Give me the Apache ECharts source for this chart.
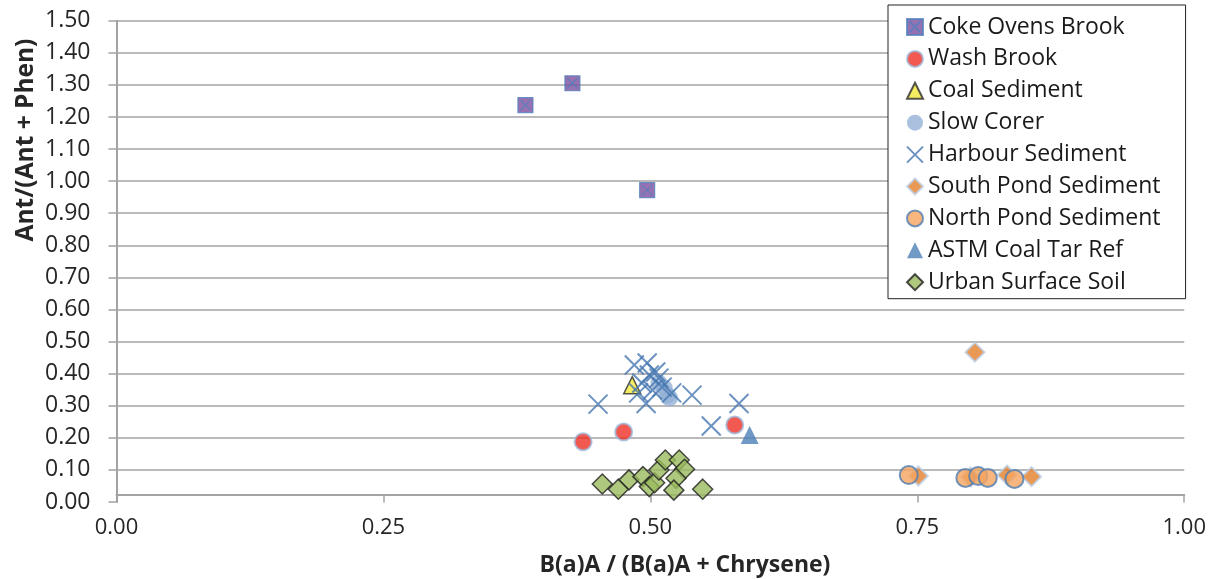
<!DOCTYPE html>
<html>
<head>
<meta charset="utf-8">
<script src="https://cdn.jsdelivr.net/npm/echarts@6/dist/echarts.min.js"></script>
<style>
html,body{margin:0;padding:0;background:#fff;}
#chart{width:1209px;height:579px;}
</style>
</head>
<body>
<div id="chart"></div>
<script>
// ---- data ----
const xTickLabels = ['0.00', '0.25', '0.50', '0.75', '1.00'];
const yTickLabels = ['0.00','0.10','0.20','0.30','0.40','0.50','0.60','0.70','0.80','0.90','1.00','1.10','1.20','1.30','1.40','1.50'];
const xAxisTitle = 'B(a)A / (B(a)A + Chrysene)';
const yAxisTitle = 'Ant/(Ant + Phen)';

const cokeOvensBrook = [[0.383, 1.237], [0.427, 1.305], [0.497, 0.972]];
const washBrook = [[0.437, 0.188], [0.475, 0.218], [0.579, 0.240]];
const coalSediment = [[0.483, 0.364]];
const slowCorer = [[0.508, 0.371], [0.513, 0.355], [0.516, 0.333], [0.518, 0.324]];
const harbourSediment = [
  [0.451, 0.305], [0.557, 0.237], [0.583, 0.307], [0.539, 0.333], [0.496, 0.307],
  [0.485, 0.427], [0.497, 0.433], [0.505, 0.405], [0.492, 0.371], [0.502, 0.349],
  [0.511, 0.358], [0.520, 0.340], [0.489, 0.340], [0.508, 0.386], [0.499, 0.396]
];
const southPondSediment = [[0.804, 0.467], [0.751, 0.081], [0.800, 0.078], [0.834, 0.084], [0.857, 0.079]];
const northPondSediment = [[0.742, 0.084], [0.795, 0.075], [0.807, 0.081], [0.816, 0.075], [0.841, 0.072]];
const astmCoalTarRef = [[0.593, 0.209]];
const urbanSurfaceSoil = [
  [0.455, 0.056], [0.470, 0.040], [0.480, 0.069], [0.493, 0.079], [0.499, 0.048],
  [0.504, 0.060], [0.508, 0.100], [0.514, 0.131], [0.527, 0.131], [0.532, 0.102],
  [0.524, 0.074], [0.522, 0.037], [0.549, 0.040]
];

const seriesNames = ['Coke Ovens Brook', 'Wash Brook', 'Coal Sediment', 'Slow Corer', 'Harbour Sediment',
  'South Pond Sediment', 'North Pond Sediment', 'ASTM Coal Tar Ref', 'Urban Surface Soil'];

// ---- chart ----
const FONT = '"Open Sans", Lato, sans-serif';
const gridGray = '#A3A3A3';
const chart = echarts.init(document.getElementById('chart'), null, {renderer: 'canvas'});

function sc(name, data, symbol, size, itemStyle) {
  return {
    type: 'scatter', name: name, data: data, symbol: symbol, symbolSize: size,
    itemStyle: itemStyle, emphasis: {disabled: true}, animation: false
  };
}

const option = {
  animation: false,
  backgroundColor: '#ffffff',
  grid: {left: 116.5, top: 20.7, width: 1069, height: 481.3, containLabel: false},
  xAxis: {
    type: 'value', min: 0, max: 1, interval: 0.25, offset: -7.5,
    axisLine: {show: true, lineStyle: {color: gridGray, width: 2}},
    axisTick: {show: true, inside: false, length: 8, lineStyle: {color: gridGray, width: 1.5}},
    axisLabel: {margin: 22, color: '#262626', fontFamily: FONT, fontSize: 22,
      formatter: function (v) { return xTickLabels[Math.round(v / 0.25)] || ''; }},
    splitLine: {show: false}
  },
  yAxis: {
    type: 'value', min: 0, max: 1.5, interval: 0.1,
    axisLine: {show: true, lineStyle: {color: gridGray, width: 2}},
    axisTick: {show: true, inside: false, length: 8, lineStyle: {color: gridGray, width: 1.5}},
    axisLabel: {margin: 26, color: '#262626', fontFamily: FONT, fontSize: 23,
      formatter: function (v) { return yTickLabels[Math.round(v / 0.1)] || ''; }},
    splitLine: {show: true, showMinLine: false, lineStyle: {color: gridGray, width: 1.5}}
  },
  legend: {
    orient: 'vertical', left: 888, top: 5,
    padding: [10.5, 25, 5, 18],
    backgroundColor: '#ffffff', borderColor: '#222222', borderWidth: 1,
    itemWidth: 16, itemHeight: 16, itemGap: 8.9,
    textStyle: {fontFamily: FONT, fontSize: 23, color: '#1a1a1a'},
    data: seriesNames
  },
  graphic: [
    {type: 'text', x: 26, y: 140, rotation: Math.PI / 2, silent: true,
     style: {text: yAxisTitle, font: 'bold 24.5px ' + FONT, fill: '#262626', align: 'center', verticalAlign: 'middle'}},
    {type: 'text', x: 685, y: 565, silent: true,
     style: {text: xAxisTitle, font: 'bold 23px ' + FONT, fill: '#262626', align: 'center', verticalAlign: 'middle'}}
  ],
  series: [
    sc(seriesNames[0], cokeOvensBrook, 'path://M0,0L10,0L10,10L0,10Z M1.5,1.5L8.5,8.5 M8.5,1.5L1.5,8.5', 15,
       {color: '#7D4FA0', borderColor: '#4F81BD', borderWidth: 1.2}),
    sc(seriesNames[1], washBrook, 'circle', 17,
       {color: '#EF2F24', borderColor: '#9DB9DC', borderWidth: 2}),
    sc(seriesNames[2], coalSediment, 'triangle', 17,
       {color: '#F2E93A', borderColor: '#2B2B2B', borderWidth: 1.5}),
    sc(seriesNames[3], slowCorer, 'circle', 17,
       {color: '#93B1D6', borderColor: '#93B1D6', borderWidth: 0}),
    sc(seriesNames[4], harbourSediment, 'path://M0,0L10,10M10,0L0,10', 19,
       {color: 'rgba(0,0,0,0)', borderColor: '#4677B0', borderWidth: 2}),
    sc(seriesNames[5], southPondSediment, 'diamond', 19,
       {color: '#E57F2A', borderColor: '#BCD0E8', borderWidth: 2}),
    sc(seriesNames[6], northPondSediment, 'circle', 18,
       {color: '#F5A45E', borderColor: '#4F7DB3', borderWidth: 2}),
    sc(seriesNames[7], astmCoalTarRef, 'triangle', 18,
       {color: '#4E7FB6', borderColor: '#4E7FB6', borderWidth: 0}),
    sc(seriesNames[8], urbanSurfaceSoil, 'diamond', 20,
       {color: '#9ABB5C', borderColor: '#1f1f1f', borderWidth: 1.5})
  ]
};
chart.setOption(option);
</script>
</body>
</html>
